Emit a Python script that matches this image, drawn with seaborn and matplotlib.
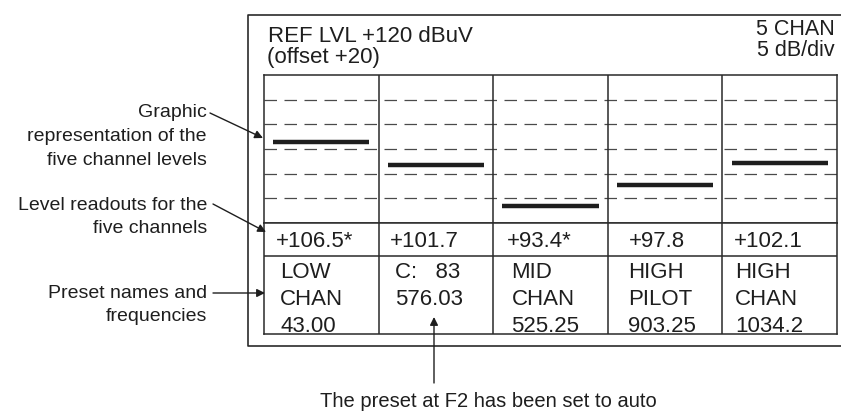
import matplotlib
matplotlib.use("Agg")
import matplotlib.pyplot as plt
import seaborn as sns
import numpy as np
import pandas as pd

# values
ref_level = 120          # dBuV at top of display
db_per_div = 5
n_div = 6
channels = ["F1", "F2", "F3", "F4", "F5"]
levels = [106.5, 101.7, 93.4, 97.8, 102.1]
auto_flag = [True, False, True, False, False]
name_line1 = ["LOW", "C:   83", "MID", "HIGH", "HIGH"]
name_line2 = ["CHAN", "576.03", "CHAN", "PILOT", "CHAN"]
name_line3 = ["43.00", "", "525.25", "903.25", "1034.2"]

sns.set_theme(style="white")
plt.rcParams["font.family"] = ["Liberation Sans", "DejaVu Sans"]
INK = "#1e1e1e"
LINE = "#2a2a2a"

W, H = 841, 416
fig = plt.figure(figsize=(W / 100, H / 100), dpi=100)


def box(x0, y0, x1, y1):
    return [x0 / W, 1 - y1 / H, (x1 - x0) / W, (y1 - y0) / H]


# level display
ax = fig.add_axes(box(264, 75, 837, 223))
bottom = ref_level - n_div * db_per_div
ax.set_xlim(0, len(channels))
ax.set_ylim(bottom, ref_level)
for y in np.arange(bottom + db_per_div, ref_level, db_per_div):
    ax.axhline(y, color="#4a4a4a", lw=0.9, ls=(0, (10, 6)))
for i in range(1, len(channels)):
    ax.axvline(i, color=LINE, lw=1.1)

df = pd.DataFrame({
    "chan": np.repeat(channels, 2),
    "x": np.array([[i + 0.08, i + 0.92] for i in range(len(channels))]).ravel(),
    "level": np.repeat(levels, 2),
})
sns.lineplot(data=df, x="x", y="level", units="chan", estimator=None,
             color=INK, lw=3.2, ax=ax, legend=False, solid_capstyle="butt")
ax.set_xticks([])
ax.set_yticks([])
ax.set_xlabel("")
ax.set_ylabel("")
for s in ax.spines.values():
    s.set_color(LINE)
    s.set_linewidth(1.1)

# readout + preset rows (y in pixels)
tb = fig.add_axes(box(264, 223, 837, 334))
tb.set_xlim(0, len(channels))
tb.set_ylim(334, 223)
tb.axhline(256, color=LINE, lw=1.1)
for i in range(1, len(channels)):
    tb.axvline(i, color=LINE, lw=1.1)
tb.set_xticks([])
tb.set_yticks([])
for s in tb.spines.values():
    s.set_color(LINE)
    s.set_linewidth(1.1)

read_off = [0.10, 0.10, 0.12, 0.18, 0.10]
name_off = [0.14, 0.14, 0.16, 0.18, 0.11]
for i, lv in enumerate(levels):
    tb.text(i + read_off[i], 247, f"+{lv:.1f}" + ("*" if auto_flag[i] else ""),
            fontsize=16, color=INK, va="baseline", ha="left")
    for y, s in zip([278, 305, 332], [name_line1[i], name_line2[i], name_line3[i]]):
        tb.text(i + name_off[i], y, s, fontsize=16, color=INK,
                va="baseline", ha="left")

# overlay in pixel coordinates for frame + callouts, on top of the table
ax_o = fig.add_axes([0, 0, 1, 1])
ax_o.set_xlim(0, W)
ax_o.set_ylim(H, 0)
ax_o.axis("off")
ax_o.set_zorder(10)

# outer frame (right side runs off the page)
ax_o.plot([W, 248, 248, W], [15, 15, 346, 346], color=LINE, lw=1.2)

# header
ax_o.text(268, 42, "REF LVL +120 dBuV", fontsize=16, color=INK, va="baseline")
ax_o.text(267, 63, "(offset +20)", fontsize=16, color=INK, va="baseline")
ax_o.text(835, 35, "5 CHAN", fontsize=15.5, color=INK, va="baseline", ha="right")
ax_o.text(835, 56, "5 dB/div", fontsize=15.5, color=INK, va="baseline", ha="right")

# callouts on the left
notes = [("Graphic", 117), ("representation of the", 141), ("five channel levels", 165),
         ("Level readouts for the", 210), ("five channels", 233),
         ("Preset names and", 298), ("frequencies", 321)]
for s, y in notes:
    ax_o.text(207, y, s, fontsize=14, color=INK, ha="right", va="baseline")

arrow = dict(arrowstyle="-|>", color=INK, lw=1.0, mutation_scale=12,
             shrinkA=0, shrinkB=0)
ax_o.annotate("", xy=(263, 138), xytext=(210, 113), arrowprops=arrow)
ax_o.annotate("", xy=(266, 232), xytext=(213, 204), arrowprops=arrow)
ax_o.annotate("", xy=(265, 293), xytext=(213, 293), arrowprops=arrow)
ax_o.annotate("", xy=(434, 317), xytext=(434, 383), arrowprops=arrow)

ax_o.text(488, 407, "The preset at F2 has been set to auto", fontsize=14.5,
          color=INK, ha="center", va="baseline")

fig.savefig("out.png", dpi=100, facecolor="white")
